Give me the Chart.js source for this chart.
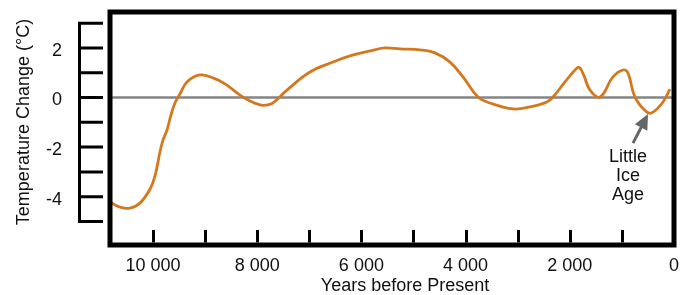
<!DOCTYPE html>
<html>
<head>
<meta charset="utf-8">
<script src="https://cdn.jsdelivr.net/npm/chart.js@4.4.1/dist/chart.umd.min.js"></script>
<style>
  html, body { margin: 0; padding: 0; background: #fff; }
  #wrap { width: 680px; height: 295px; }
</style>
</head>
<body>
<div id="wrap"><canvas id="tempChart"></canvas></div>
<script>
// Years before present and temperature change
const years = [10825, 10633, 10441, 10250, 10058, 9962, 9866, 9808, 9731, 9655, 9578, 9482, 9347, 9098,
  8848, 8618, 8330, 8138, 7946, 7793, 7697, 7428, 6987, 6545, 6219, 5835, 5547, 5259, 4875, 4587,
  4299, 4050, 3762, 3532, 3090, 2764, 2438, 2322, 2092, 1862, 1804, 1727, 1612, 1420, 1171, 979,
  883, 749, 518, 403, 211, 77];
const temps = [-4.22, -4.42, -4.46, -4.26, -3.70, -3.17, -2.20, -1.72, -1.31, -0.71, -0.22, 0.14, 0.63, 0.91,
  0.79, 0.55, 0.10, -0.14, -0.30, -0.30, -0.22, 0.30, 1.03, 1.43, 1.68, 1.88, 2.00, 1.96, 1.92, 1.80,
  1.43, 0.83, 0.02, -0.22, -0.46, -0.38, -0.18, 0.02, 0.63, 1.19, 1.19, 0.87, 0.30, 0.02, 0.83, 1.11,
  0.99, 0.02, -0.59, -0.59, -0.18, 0.34];

const xTicks = [10000, 9000, 8000, 7000, 6000, 5000, 4000, 3000, 2000, 1000, 0];
const xLabelled = [10000, 8000, 6000, 4000, 2000, 0];
const yTicks = [3, 2, 1, 0, -1, -2, -3, -4, -5];
const yLabelled = [2, 0, -2, -4];

const FONT = "'Liberation Sans', Arial, Helvetica, sans-serif";
const AREA = { left: 110, right: 674, top: 12, bottom: 245 };

// pin the plot box where the original has it
const pinArea = {
  id: 'pinArea',
  afterLayout(chart) {
    const a = chart.chartArea, x = chart.scales.x, y = chart.scales.y;
    Object.assign(a, AREA, { width: AREA.right - AREA.left, height: AREA.bottom - AREA.top });
    Object.assign(x, { left: AREA.left, right: AREA.right, width: AREA.right - AREA.left,
      top: AREA.bottom, bottom: chart.height, height: chart.height - AREA.bottom });
    Object.assign(y, { left: 0, right: AREA.left, width: AREA.left,
      top: AREA.top, bottom: AREA.bottom, height: AREA.bottom - AREA.top });
    x.configure();
    y.configure();
  }
};

// frame, zero line, tick marks, titles and the note
const decor = {
  id: 'decor',
  beforeDatasetsDraw(chart) {
    const c = chart.ctx, a = chart.chartArea, y = chart.scales.y;
    c.save();
    c.strokeStyle = '#858585';
    c.lineWidth = 2.5;
    c.beginPath();
    c.moveTo(a.left, y.getPixelForValue(0));
    c.lineTo(a.right, y.getPixelForValue(0));
    c.stroke();
    c.restore();
  },
  afterDatasetsDraw(chart) {
    const c = chart.ctx, a = chart.chartArea, x = chart.scales.x, y = chart.scales.y;
    c.save();
    // box
    c.strokeStyle = '#000';
    c.lineWidth = 5;
    c.strokeRect(a.left, a.top, a.right - a.left, a.bottom - a.top);

    // x ticks inside, at the bottom
    c.lineWidth = 3;
    c.beginPath();
    xTicks.forEach(v => {
      if (v === 0) return;
      const px = Math.round(x.getPixelForValue(v)) + 0.5;
      c.moveTo(px, a.bottom - 2.5);
      c.lineTo(px, a.bottom - 15);
    });
    c.stroke();

    // separate y bracket on the left
    const bx = 79.5;
    c.beginPath();
    c.moveTo(bx, y.getPixelForValue(3) - 1.5);
    c.lineTo(bx, y.getPixelForValue(-5) + 1.5);
    yTicks.forEach(v => {
      const py = y.getPixelForValue(v);
      c.moveTo(bx, py);
      c.lineTo(103, py);
    });
    c.stroke();

    // y labels sit a little below their ticks in the original
    c.fillStyle = '#111';
    c.font = '18px ' + FONT;
    c.textAlign = 'right';
    c.textBaseline = 'middle';
    yLabelled.forEach(v => c.fillText(String(v), 62, y.getPixelForValue(v) + 3));

    // axis titles
    c.textAlign = 'center';
    c.textBaseline = 'alphabetic';
    c.fillText('Years before Present', 405, 291);
    c.save();
    c.translate(29, 122);
    c.rotate(-Math.PI / 2);
    c.fillText('Temperature Change (°C)', 0, 0);
    c.restore();

    // Little Ice Age arrow
    const tipX = x.getPixelForValue(499), tipY = y.getPixelForValue(-0.67);
    const tailX = x.getPixelForValue(787), tailY = y.getPixelForValue(-1.84);
    const ang = Math.atan2(tipY - tailY, tipX - tailX);
    const headLen = 15, headW = 7;
    const baseX = tipX - headLen * Math.cos(ang), baseY = tipY - headLen * Math.sin(ang);
    c.strokeStyle = '#666';
    c.fillStyle = '#666';
    c.lineWidth = 3;
    c.beginPath();
    c.moveTo(tailX, tailY);
    c.lineTo(baseX + 2 * Math.cos(ang), baseY + 2 * Math.sin(ang));
    c.stroke();
    c.beginPath();
    c.moveTo(tipX, tipY);
    c.lineTo(baseX + headW * Math.sin(ang), baseY - headW * Math.cos(ang));
    c.lineTo(baseX - headW * Math.sin(ang), baseY + headW * Math.cos(ang));
    c.closePath();
    c.fill();

    c.fillStyle = '#111';
    const noteX = x.getPixelForValue(883);
    const noteY = y.getPixelForValue(-2.6);
    ['Little', 'Ice', 'Age'].forEach((t, i) => c.fillText(t, noteX, noteY + i * 19));
    c.restore();
  }
};

const ctx = document.getElementById('tempChart');
new Chart(ctx, {
  type: 'line',
  data: {
    datasets: [{
      data: years.map((yr, i) => ({ x: yr, y: temps[i] })),
      borderColor: '#d4781f',
      borderWidth: 2.8,
      pointRadius: 0,
      tension: 0.4,
      fill: false
    }]
  },
  options: {
    responsive: true,
    maintainAspectRatio: false,
    animation: false,
    plugins: { legend: { display: false }, tooltip: { enabled: false } },
    scales: {
      x: {
        type: 'linear',
        reverse: true,
        min: 0,
        max: 10825,
        afterBuildTicks: s => { s.ticks = xLabelled.map(v => ({ value: v })); },
        grid: { display: false, drawTicks: false },
        border: { display: false },
        ticks: {
          autoSkip: false,
          maxRotation: 0,
          padding: 10,
          color: '#111',
          font: { family: FONT, size: 18 },
          callback: v => v === 0 ? '0' : (v / 1000) + ' 000'
        }
      },
      y: {
        min: -5.95,
        max: 3.45,
        grid: { display: false, drawTicks: false },
        border: { display: false },
        ticks: { display: false }
      }
    }
  },
  plugins: [pinArea, decor]
});
</script>
</body>
</html>
